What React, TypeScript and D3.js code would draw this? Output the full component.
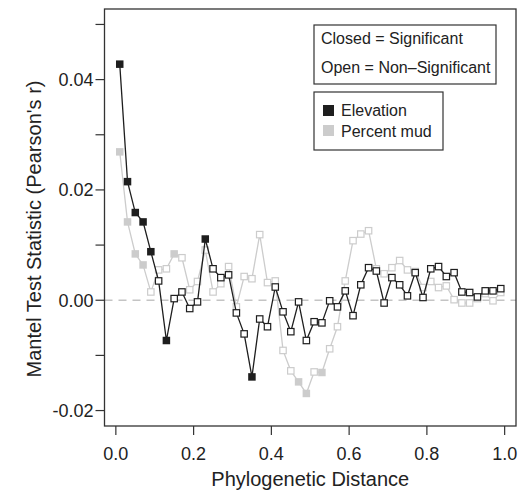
import React from "react";
import * as d3 from "d3";

const distances: number[] = d3.range(50).map((i) => +(0.01 + i * 0.02).toFixed(2));

const elevation: number[] = [
  0.0428, 0.0215, 0.0159, 0.0142, 0.0088, 0.0035, -0.0073, 0.0003, 0.0015, -0.0015,
  -0.0003, 0.0111, 0.0057, 0.0041, 0.0046, -0.0023, -0.0061, -0.0139, -0.0034, -0.0048,
  0.0024, -0.0021, -0.0057, -0.0003, -0.0073, -0.0039, -0.0041, -0.0001, -0.0012, 0.0017,
  -0.0028, 0.0028, 0.0059, 0.0053, -0.0005, 0.0041, 0.0028, 0.0008, 0.005, 0.0005,
  0.0057, 0.0061, 0.0043, 0.005, 0.0015, 0.0014, 0.0006, 0.0017, 0.0017, 0.0021,
];
const elevationSig: number[] = [0, 1, 2, 3, 4, 6, 11, 17];

const percentMud: number[] = [
  0.0269, 0.0142, 0.0084, 0.0064, 0.0015, 0.0055, 0.0057, 0.0084, 0.0077, 0.0019,
  0.0034, 0.0091, 0.0015, 0.003, 0.0061, -0.0012, 0.0043, 0.0039, 0.0119, 0.0032,
  0.0035, -0.0091, -0.0128, -0.0148, -0.0169, -0.013, -0.0131, -0.0088, -0.0048, 0.0035,
  0.0108, 0.012, 0.0126, 0.0057, 0.0048, 0.0059, 0.0072, 0.0055, 0.0052, 0.0023,
  0.0034, 0.0023, 0.0026, 0.0001, -0.0005, -0.0005, 0.0003, 0.0012, -0.0001, 0.0014,
];
const percentMudSig: number[] = [0, 1, 2, 3, 7, 23, 24, 26];

const xTicks: number[] = [0, 0.2, 0.4, 0.6, 0.8, 1.0];
const xTickLabels: string[] = ["0.0", "0.2", "0.4", "0.6", "0.8", "1.0"];
const yTicksMajor: number[] = [-0.02, 0, 0.02, 0.04];
const yTickLabels: string[] = ["-0.02", "0.00", "0.02", "0.04"];
const yTicksMinor: number[] = [-0.02, -0.01, 0, 0.01, 0.02, 0.03, 0.04, 0.05];

const W = 530;
const H = 498;
const box = { left: 104.5, right: 516, top: 9, bottom: 426 };

const BLACK = "#1e1e1e";
const GRAY = "#cccccc";
const FONT = "'Liberation Sans', Arial, Helvetica, sans-serif";

export default function App() {
  const x = d3.scaleLinear().domain([-0.0292, 1.0292]).range([box.left, box.right]);
  const y = d3.scaleLinear().domain([-0.0228, 0.0528]).range([box.bottom, box.top]);
  const line = d3
    .line<number>()
    .x((_, i) => x(distances[i]))
    .y((d) => y(d));

  const renderSeries = (vals: number[], sig: number[], color: string) => (
    <g>
      <path d={line(vals) || ""} fill="none" stroke={color} strokeWidth={1.3} />
      {vals.map((v, i) => {
        const filled = sig.includes(i);
        const s = filled ? 7.5 : 6.4;
        return (
          <rect
            key={i}
            x={x(distances[i]) - s / 2}
            y={y(v) - s / 2}
            width={s}
            height={s}
            fill={filled ? color : "white"}
            stroke={color}
            strokeWidth={filled ? 0 : 1.2}
          />
        );
      })}
    </g>
  );

  return (
    <div style={{ position: "absolute", left: 0, top: 0 }}>
      <svg width={W} height={H} style={{ display: "block", fontFamily: FONT }}>
        <rect x={0} y={0} width={W} height={H} fill="white" />
        <line
          x1={box.left}
          x2={box.right}
          y1={y(0)}
          y2={y(0)}
          stroke="#c4c4c4"
          strokeWidth={1.5}
          strokeDasharray="8,6"
        />
        {renderSeries(percentMud, percentMudSig, GRAY)}
        {renderSeries(elevation, elevationSig, BLACK)}
        <rect
          x={box.left}
          y={box.top}
          width={box.right - box.left}
          height={box.bottom - box.top}
          fill="none"
          stroke="#333"
          strokeWidth={1.3}
        />
        {xTicks.map((t, i) => (
          <g key={t}>
            <line x1={x(t)} x2={x(t)} y1={box.bottom} y2={box.bottom + 9} stroke="#333" strokeWidth={1.2} />
            <text x={x(t)} y={460} textAnchor="middle" fontSize={18} fill="#222">
              {xTickLabels[i]}
            </text>
          </g>
        ))}
        <text x={(x(0) + x(1)) / 2} y={486} textAnchor="middle" fontSize={20} fill="#222">
          Phylogenetic Distance
        </text>
        {yTicksMinor.map((t) => (
          <line key={t} x1={box.left - 9} x2={box.left} y1={y(t)} y2={y(t)} stroke="#333" strokeWidth={1.2} />
        ))}
        {yTicksMajor.map((t, i) => (
          <text key={t} x={box.left - 11} y={y(t) + 6.5} textAnchor="end" fontSize={18} fill="#222">
            {yTickLabels[i]}
          </text>
        ))}
        <text
          transform={`translate(41,229) rotate(-90)`}
          textAnchor="middle"
          fontSize={20}
          fill="#222"
        >
          Mantel Test Statistic (Pearson's r)
        </text>
        <rect x={314} y={25} width={182} height={59} fill="white" stroke="#333" strokeWidth={1.2} />
        <text x={321} y={44} fontSize={16} fill="#222">Closed = Significant</text>
        <text x={321} y={73} fontSize={16} fill="#222">Open = Non–Significant</text>
        <rect x={314} y={92} width={129} height={58} fill="white" stroke="#333" strokeWidth={1.2} />
        <rect x={323} y={105} width={11} height={11} fill={BLACK} />
        <text x={341} y={116} fontSize={16} fill="#222">Elevation</text>
        <rect x={323} y={125} width={11} height={11} fill={GRAY} />
        <text x={341} y={137} fontSize={16} fill="#222">Percent mud</text>
      </svg>
    </div>
  );
}
